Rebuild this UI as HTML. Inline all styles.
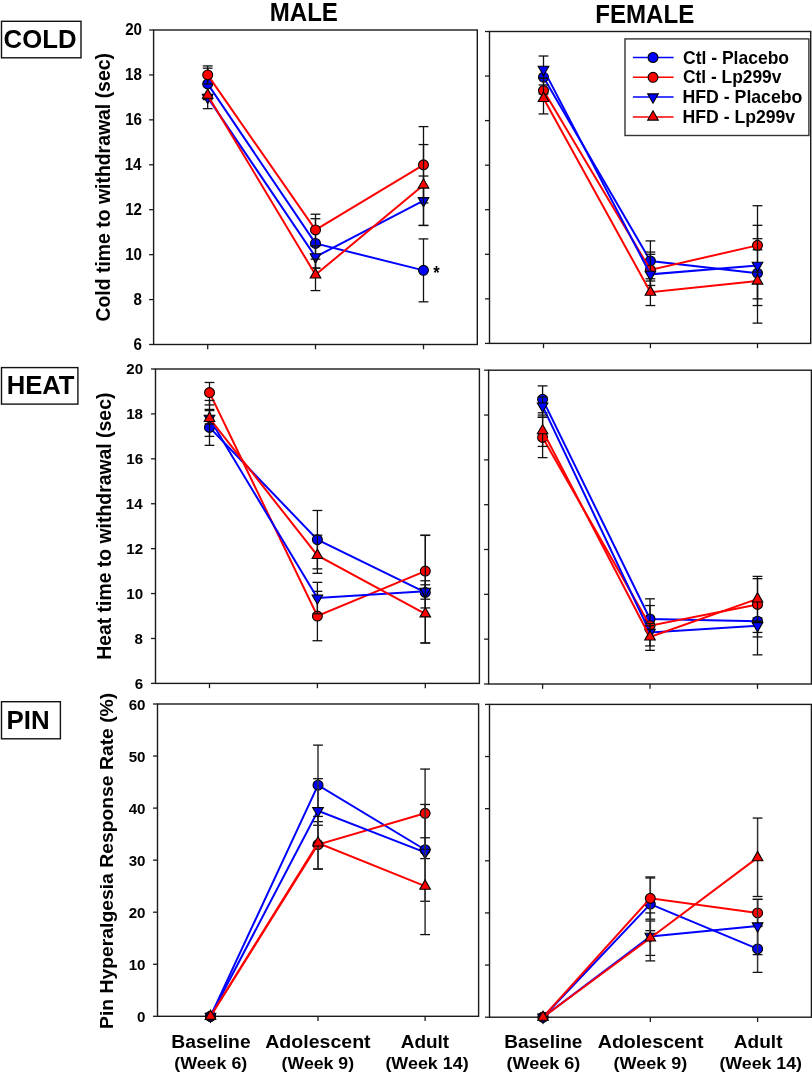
<!DOCTYPE html>
<html><head><meta charset="utf-8"><style>
html,body{margin:0;padding:0;background:#fff;}
svg{display:block;will-change:transform;}
text{font-family:"Liberation Sans",sans-serif;font-weight:bold;}
</style></head><body>
<svg width="812" height="1077" viewBox="0 0 812 1077">
<rect width="812" height="1077" fill="#fff"/>
<rect x="153.60" y="30.00" width="323.70" height="314.50" fill="none" stroke="#1a1a1a" stroke-width="1.4"/>
<line x1="149.10" y1="344.50" x2="153.60" y2="344.50" stroke="#1a1a1a" stroke-width="1.3"/>
<line x1="149.10" y1="299.57" x2="153.60" y2="299.57" stroke="#1a1a1a" stroke-width="1.3"/>
<line x1="149.10" y1="254.64" x2="153.60" y2="254.64" stroke="#1a1a1a" stroke-width="1.3"/>
<line x1="149.10" y1="209.71" x2="153.60" y2="209.71" stroke="#1a1a1a" stroke-width="1.3"/>
<line x1="149.10" y1="164.79" x2="153.60" y2="164.79" stroke="#1a1a1a" stroke-width="1.3"/>
<line x1="149.10" y1="119.86" x2="153.60" y2="119.86" stroke="#1a1a1a" stroke-width="1.3"/>
<line x1="149.10" y1="74.93" x2="153.60" y2="74.93" stroke="#1a1a1a" stroke-width="1.3"/>
<line x1="149.10" y1="30.00" x2="153.60" y2="30.00" stroke="#1a1a1a" stroke-width="1.3"/>
<line x1="207.70" y1="344.50" x2="207.70" y2="349.30" stroke="#1a1a1a" stroke-width="1.3"/>
<line x1="315.50" y1="344.50" x2="315.50" y2="349.30" stroke="#1a1a1a" stroke-width="1.3"/>
<line x1="423.50" y1="344.50" x2="423.50" y2="349.30" stroke="#1a1a1a" stroke-width="1.3"/>
<polyline points="207.70,83.91 315.50,243.41 423.50,270.37" fill="none" stroke="#0000ff" stroke-width="2"/>
<line x1="207.70" y1="68.19" x2="207.70" y2="99.64" stroke="#111" stroke-width="1.3"/>
<line x1="202.80" y1="68.19" x2="212.60" y2="68.19" stroke="#111" stroke-width="1.3"/>
<line x1="202.80" y1="99.64" x2="212.60" y2="99.64" stroke="#111" stroke-width="1.3"/>
<line x1="315.50" y1="218.70" x2="315.50" y2="268.12" stroke="#111" stroke-width="1.3"/>
<line x1="310.60" y1="218.70" x2="320.40" y2="218.70" stroke="#111" stroke-width="1.3"/>
<line x1="310.60" y1="268.12" x2="320.40" y2="268.12" stroke="#111" stroke-width="1.3"/>
<line x1="423.50" y1="238.92" x2="423.50" y2="301.82" stroke="#111" stroke-width="1.3"/>
<line x1="418.60" y1="238.92" x2="428.40" y2="238.92" stroke="#111" stroke-width="1.3"/>
<line x1="418.60" y1="301.82" x2="428.40" y2="301.82" stroke="#111" stroke-width="1.3"/>
<circle cx="207.70" cy="83.91" r="4.95" fill="#0000ff" stroke="#000" stroke-width="1.1"/>
<circle cx="315.50" cy="243.41" r="4.95" fill="#0000ff" stroke="#000" stroke-width="1.1"/>
<circle cx="423.50" cy="270.37" r="4.95" fill="#0000ff" stroke="#000" stroke-width="1.1"/>
<polyline points="207.70,74.93 315.50,229.93 423.50,164.79" fill="none" stroke="#ff0000" stroke-width="2"/>
<line x1="207.70" y1="65.94" x2="207.70" y2="83.91" stroke="#111" stroke-width="1.3"/>
<line x1="202.80" y1="65.94" x2="212.60" y2="65.94" stroke="#111" stroke-width="1.3"/>
<line x1="202.80" y1="83.91" x2="212.60" y2="83.91" stroke="#111" stroke-width="1.3"/>
<line x1="315.50" y1="214.21" x2="315.50" y2="245.66" stroke="#111" stroke-width="1.3"/>
<line x1="310.60" y1="214.21" x2="320.40" y2="214.21" stroke="#111" stroke-width="1.3"/>
<line x1="310.60" y1="245.66" x2="320.40" y2="245.66" stroke="#111" stroke-width="1.3"/>
<line x1="423.50" y1="126.60" x2="423.50" y2="202.97" stroke="#111" stroke-width="1.3"/>
<line x1="418.60" y1="126.60" x2="428.40" y2="126.60" stroke="#111" stroke-width="1.3"/>
<line x1="418.60" y1="202.97" x2="428.40" y2="202.97" stroke="#111" stroke-width="1.3"/>
<circle cx="207.70" cy="74.93" r="4.95" fill="#ff0000" stroke="#000" stroke-width="1.1"/>
<circle cx="315.50" cy="229.93" r="4.95" fill="#ff0000" stroke="#000" stroke-width="1.1"/>
<circle cx="423.50" cy="164.79" r="4.95" fill="#ff0000" stroke="#000" stroke-width="1.1"/>
<polyline points="207.70,97.39 315.50,256.89 423.50,200.73" fill="none" stroke="#0000ff" stroke-width="2"/>
<line x1="207.70" y1="95.15" x2="207.70" y2="108.62" stroke="#111" stroke-width="1.3"/>
<line x1="202.80" y1="95.15" x2="212.60" y2="95.15" stroke="#111" stroke-width="1.3"/>
<line x1="202.80" y1="108.62" x2="212.60" y2="108.62" stroke="#111" stroke-width="1.3"/>
<line x1="315.50" y1="245.66" x2="315.50" y2="268.12" stroke="#111" stroke-width="1.3"/>
<line x1="310.60" y1="245.66" x2="320.40" y2="245.66" stroke="#111" stroke-width="1.3"/>
<line x1="310.60" y1="268.12" x2="320.40" y2="268.12" stroke="#111" stroke-width="1.3"/>
<line x1="423.50" y1="176.02" x2="423.50" y2="225.44" stroke="#111" stroke-width="1.3"/>
<line x1="418.60" y1="176.02" x2="428.40" y2="176.02" stroke="#111" stroke-width="1.3"/>
<line x1="418.60" y1="225.44" x2="428.40" y2="225.44" stroke="#111" stroke-width="1.3"/>
<polygon points="202.40,94.29 213.00,94.29 207.70,103.59" fill="#0000ff" stroke="#000" stroke-width="1.1"/>
<polygon points="310.20,253.79 320.80,253.79 315.50,263.09" fill="#0000ff" stroke="#000" stroke-width="1.1"/>
<polygon points="418.20,197.63 428.80,197.63 423.50,206.93" fill="#0000ff" stroke="#000" stroke-width="1.1"/>
<polyline points="207.70,95.15 315.50,274.86 423.50,185.00" fill="none" stroke="#ff0000" stroke-width="2"/>
<line x1="207.70" y1="97.39" x2="207.70" y2="98.52" stroke="#111" stroke-width="1.3"/>
<line x1="202.80" y1="97.39" x2="212.60" y2="97.39" stroke="#111" stroke-width="1.3"/>
<line x1="202.80" y1="98.52" x2="212.60" y2="98.52" stroke="#111" stroke-width="1.3"/>
<line x1="315.50" y1="259.14" x2="315.50" y2="290.59" stroke="#111" stroke-width="1.3"/>
<line x1="310.60" y1="259.14" x2="320.40" y2="259.14" stroke="#111" stroke-width="1.3"/>
<line x1="310.60" y1="290.59" x2="320.40" y2="290.59" stroke="#111" stroke-width="1.3"/>
<line x1="423.50" y1="144.57" x2="423.50" y2="225.44" stroke="#111" stroke-width="1.3"/>
<line x1="418.60" y1="144.57" x2="428.40" y2="144.57" stroke="#111" stroke-width="1.3"/>
<line x1="418.60" y1="225.44" x2="428.40" y2="225.44" stroke="#111" stroke-width="1.3"/>
<polygon points="202.40,98.25 213.00,98.25 207.70,88.95" fill="#ff0000" stroke="#000" stroke-width="1.1"/>
<polygon points="310.20,277.96 320.80,277.96 315.50,268.66" fill="#ff0000" stroke="#000" stroke-width="1.1"/>
<polygon points="418.20,188.10 428.80,188.10 423.50,178.80" fill="#ff0000" stroke="#000" stroke-width="1.1"/>
<rect x="489.50" y="31.50" width="321.20" height="311.90" fill="none" stroke="#1a1a1a" stroke-width="1.4"/>
<line x1="485.00" y1="343.40" x2="489.50" y2="343.40" stroke="#1a1a1a" stroke-width="1.3"/>
<line x1="485.00" y1="298.84" x2="489.50" y2="298.84" stroke="#1a1a1a" stroke-width="1.3"/>
<line x1="485.00" y1="254.29" x2="489.50" y2="254.29" stroke="#1a1a1a" stroke-width="1.3"/>
<line x1="485.00" y1="209.73" x2="489.50" y2="209.73" stroke="#1a1a1a" stroke-width="1.3"/>
<line x1="485.00" y1="165.17" x2="489.50" y2="165.17" stroke="#1a1a1a" stroke-width="1.3"/>
<line x1="485.00" y1="120.61" x2="489.50" y2="120.61" stroke="#1a1a1a" stroke-width="1.3"/>
<line x1="485.00" y1="76.06" x2="489.50" y2="76.06" stroke="#1a1a1a" stroke-width="1.3"/>
<line x1="485.00" y1="31.50" x2="489.50" y2="31.50" stroke="#1a1a1a" stroke-width="1.3"/>
<line x1="543.50" y1="343.40" x2="543.50" y2="348.20" stroke="#1a1a1a" stroke-width="1.3"/>
<line x1="650.40" y1="343.40" x2="650.40" y2="348.20" stroke="#1a1a1a" stroke-width="1.3"/>
<line x1="757.50" y1="343.40" x2="757.50" y2="348.20" stroke="#1a1a1a" stroke-width="1.3"/>
<polyline points="543.50,77.17 650.40,260.97 757.50,273.22" fill="none" stroke="#0000ff" stroke-width="2"/>
<line x1="543.50" y1="67.15" x2="543.50" y2="89.42" stroke="#111" stroke-width="1.3"/>
<line x1="538.60" y1="67.15" x2="548.40" y2="67.15" stroke="#111" stroke-width="1.3"/>
<line x1="538.60" y1="89.42" x2="548.40" y2="89.42" stroke="#111" stroke-width="1.3"/>
<line x1="650.40" y1="240.92" x2="650.40" y2="281.02" stroke="#111" stroke-width="1.3"/>
<line x1="645.50" y1="240.92" x2="655.30" y2="240.92" stroke="#111" stroke-width="1.3"/>
<line x1="645.50" y1="281.02" x2="655.30" y2="281.02" stroke="#111" stroke-width="1.3"/>
<line x1="757.50" y1="225.32" x2="757.50" y2="305.53" stroke="#111" stroke-width="1.3"/>
<line x1="752.60" y1="225.32" x2="762.40" y2="225.32" stroke="#111" stroke-width="1.3"/>
<line x1="752.60" y1="305.53" x2="762.40" y2="305.53" stroke="#111" stroke-width="1.3"/>
<circle cx="543.50" cy="77.17" r="4.95" fill="#0000ff" stroke="#000" stroke-width="1.1"/>
<circle cx="650.40" cy="260.97" r="4.95" fill="#0000ff" stroke="#000" stroke-width="1.1"/>
<circle cx="757.50" cy="273.22" r="4.95" fill="#0000ff" stroke="#000" stroke-width="1.1"/>
<polyline points="543.50,90.54 650.40,269.88 757.50,245.37" fill="none" stroke="#ff0000" stroke-width="2"/>
<line x1="543.50" y1="84.97" x2="543.50" y2="93.88" stroke="#111" stroke-width="1.3"/>
<line x1="538.60" y1="84.97" x2="548.40" y2="84.97" stroke="#111" stroke-width="1.3"/>
<line x1="538.60" y1="93.88" x2="548.40" y2="93.88" stroke="#111" stroke-width="1.3"/>
<line x1="650.40" y1="252.06" x2="650.40" y2="285.48" stroke="#111" stroke-width="1.3"/>
<line x1="645.50" y1="252.06" x2="655.30" y2="252.06" stroke="#111" stroke-width="1.3"/>
<line x1="645.50" y1="285.48" x2="655.30" y2="285.48" stroke="#111" stroke-width="1.3"/>
<line x1="757.50" y1="238.69" x2="757.50" y2="249.83" stroke="#111" stroke-width="1.3"/>
<line x1="752.60" y1="238.69" x2="762.40" y2="238.69" stroke="#111" stroke-width="1.3"/>
<line x1="752.60" y1="249.83" x2="762.40" y2="249.83" stroke="#111" stroke-width="1.3"/>
<circle cx="543.50" cy="90.54" r="4.95" fill="#ff0000" stroke="#000" stroke-width="1.1"/>
<circle cx="650.40" cy="269.88" r="4.95" fill="#ff0000" stroke="#000" stroke-width="1.1"/>
<circle cx="757.50" cy="245.37" r="4.95" fill="#ff0000" stroke="#000" stroke-width="1.1"/>
<polyline points="543.50,69.37 650.40,274.34 757.50,265.42" fill="none" stroke="#0000ff" stroke-width="2"/>
<line x1="543.50" y1="56.01" x2="543.50" y2="78.29" stroke="#111" stroke-width="1.3"/>
<line x1="538.60" y1="56.01" x2="548.40" y2="56.01" stroke="#111" stroke-width="1.3"/>
<line x1="538.60" y1="78.29" x2="548.40" y2="78.29" stroke="#111" stroke-width="1.3"/>
<line x1="650.40" y1="254.29" x2="650.40" y2="294.39" stroke="#111" stroke-width="1.3"/>
<line x1="645.50" y1="254.29" x2="655.30" y2="254.29" stroke="#111" stroke-width="1.3"/>
<line x1="645.50" y1="294.39" x2="655.30" y2="294.39" stroke="#111" stroke-width="1.3"/>
<line x1="757.50" y1="205.72" x2="757.50" y2="323.13" stroke="#111" stroke-width="1.3"/>
<line x1="752.60" y1="205.72" x2="762.40" y2="205.72" stroke="#111" stroke-width="1.3"/>
<line x1="752.60" y1="323.13" x2="762.40" y2="323.13" stroke="#111" stroke-width="1.3"/>
<polygon points="538.20,66.27 548.80,66.27 543.50,75.57" fill="#0000ff" stroke="#000" stroke-width="1.1"/>
<polygon points="645.10,271.24 655.70,271.24 650.40,280.54" fill="#0000ff" stroke="#000" stroke-width="1.1"/>
<polygon points="752.20,262.32 762.80,262.32 757.50,271.62" fill="#0000ff" stroke="#000" stroke-width="1.1"/>
<polyline points="543.50,98.34 650.40,292.16 757.50,281.02" fill="none" stroke="#ff0000" stroke-width="2"/>
<line x1="543.50" y1="78.29" x2="543.50" y2="113.93" stroke="#111" stroke-width="1.3"/>
<line x1="538.60" y1="78.29" x2="548.40" y2="78.29" stroke="#111" stroke-width="1.3"/>
<line x1="538.60" y1="113.93" x2="548.40" y2="113.93" stroke="#111" stroke-width="1.3"/>
<line x1="650.40" y1="278.79" x2="650.40" y2="305.53" stroke="#111" stroke-width="1.3"/>
<line x1="645.50" y1="278.79" x2="655.30" y2="278.79" stroke="#111" stroke-width="1.3"/>
<line x1="645.50" y1="305.53" x2="655.30" y2="305.53" stroke="#111" stroke-width="1.3"/>
<line x1="757.50" y1="272.11" x2="757.50" y2="298.84" stroke="#111" stroke-width="1.3"/>
<line x1="752.60" y1="272.11" x2="762.40" y2="272.11" stroke="#111" stroke-width="1.3"/>
<line x1="752.60" y1="298.84" x2="762.40" y2="298.84" stroke="#111" stroke-width="1.3"/>
<polygon points="538.20,101.44 548.80,101.44 543.50,92.14" fill="#ff0000" stroke="#000" stroke-width="1.1"/>
<polygon points="645.10,295.26 655.70,295.26 650.40,285.96" fill="#ff0000" stroke="#000" stroke-width="1.1"/>
<polygon points="752.20,284.12 762.80,284.12 757.50,274.82" fill="#ff0000" stroke="#000" stroke-width="1.1"/>
<rect x="155.50" y="369.00" width="323.90" height="314.40" fill="none" stroke="#1a1a1a" stroke-width="1.4"/>
<line x1="151.00" y1="683.40" x2="155.50" y2="683.40" stroke="#1a1a1a" stroke-width="1.3"/>
<line x1="151.00" y1="638.49" x2="155.50" y2="638.49" stroke="#1a1a1a" stroke-width="1.3"/>
<line x1="151.00" y1="593.57" x2="155.50" y2="593.57" stroke="#1a1a1a" stroke-width="1.3"/>
<line x1="151.00" y1="548.66" x2="155.50" y2="548.66" stroke="#1a1a1a" stroke-width="1.3"/>
<line x1="151.00" y1="503.74" x2="155.50" y2="503.74" stroke="#1a1a1a" stroke-width="1.3"/>
<line x1="151.00" y1="458.83" x2="155.50" y2="458.83" stroke="#1a1a1a" stroke-width="1.3"/>
<line x1="151.00" y1="413.91" x2="155.50" y2="413.91" stroke="#1a1a1a" stroke-width="1.3"/>
<line x1="151.00" y1="369.00" x2="155.50" y2="369.00" stroke="#1a1a1a" stroke-width="1.3"/>
<line x1="209.50" y1="683.40" x2="209.50" y2="688.20" stroke="#1a1a1a" stroke-width="1.3"/>
<line x1="317.40" y1="683.40" x2="317.40" y2="688.20" stroke="#1a1a1a" stroke-width="1.3"/>
<line x1="425.30" y1="683.40" x2="425.30" y2="688.20" stroke="#1a1a1a" stroke-width="1.3"/>
<polyline points="209.50,427.39 317.40,539.67 425.30,592.45" fill="none" stroke="#0000ff" stroke-width="2"/>
<line x1="209.50" y1="409.42" x2="209.50" y2="445.35" stroke="#111" stroke-width="1.3"/>
<line x1="204.60" y1="409.42" x2="214.40" y2="409.42" stroke="#111" stroke-width="1.3"/>
<line x1="204.60" y1="445.35" x2="214.40" y2="445.35" stroke="#111" stroke-width="1.3"/>
<line x1="317.40" y1="510.48" x2="317.40" y2="568.87" stroke="#111" stroke-width="1.3"/>
<line x1="312.50" y1="510.48" x2="322.30" y2="510.48" stroke="#111" stroke-width="1.3"/>
<line x1="312.50" y1="568.87" x2="322.30" y2="568.87" stroke="#111" stroke-width="1.3"/>
<line x1="425.30" y1="580.77" x2="425.30" y2="599.19" stroke="#111" stroke-width="1.3"/>
<line x1="420.40" y1="580.77" x2="430.20" y2="580.77" stroke="#111" stroke-width="1.3"/>
<line x1="420.40" y1="599.19" x2="430.20" y2="599.19" stroke="#111" stroke-width="1.3"/>
<circle cx="209.50" cy="427.39" r="4.95" fill="#0000ff" stroke="#000" stroke-width="1.1"/>
<circle cx="317.40" cy="539.67" r="4.95" fill="#0000ff" stroke="#000" stroke-width="1.1"/>
<circle cx="425.30" cy="592.45" r="4.95" fill="#0000ff" stroke="#000" stroke-width="1.1"/>
<polyline points="209.50,392.58 317.40,616.03 425.30,571.11" fill="none" stroke="#ff0000" stroke-width="2"/>
<line x1="209.50" y1="382.47" x2="209.50" y2="404.93" stroke="#111" stroke-width="1.3"/>
<line x1="204.60" y1="382.47" x2="214.40" y2="382.47" stroke="#111" stroke-width="1.3"/>
<line x1="204.60" y1="404.93" x2="214.40" y2="404.93" stroke="#111" stroke-width="1.3"/>
<line x1="317.40" y1="591.33" x2="317.40" y2="640.73" stroke="#111" stroke-width="1.3"/>
<line x1="312.50" y1="591.33" x2="322.30" y2="591.33" stroke="#111" stroke-width="1.3"/>
<line x1="312.50" y1="640.73" x2="322.30" y2="640.73" stroke="#111" stroke-width="1.3"/>
<line x1="425.30" y1="535.18" x2="425.30" y2="607.94" stroke="#111" stroke-width="1.3"/>
<line x1="420.40" y1="535.18" x2="430.20" y2="535.18" stroke="#111" stroke-width="1.3"/>
<line x1="420.40" y1="607.94" x2="430.20" y2="607.94" stroke="#111" stroke-width="1.3"/>
<circle cx="209.50" cy="392.58" r="4.95" fill="#ff0000" stroke="#000" stroke-width="1.1"/>
<circle cx="317.40" cy="616.03" r="4.95" fill="#ff0000" stroke="#000" stroke-width="1.1"/>
<circle cx="425.30" cy="571.11" r="4.95" fill="#ff0000" stroke="#000" stroke-width="1.1"/>
<polyline points="209.50,418.41 317.40,598.06 425.30,591.33" fill="none" stroke="#0000ff" stroke-width="2"/>
<line x1="209.50" y1="400.44" x2="209.50" y2="436.37" stroke="#111" stroke-width="1.3"/>
<line x1="204.60" y1="400.44" x2="214.40" y2="400.44" stroke="#111" stroke-width="1.3"/>
<line x1="204.60" y1="436.37" x2="214.40" y2="436.37" stroke="#111" stroke-width="1.3"/>
<line x1="317.40" y1="582.34" x2="317.40" y2="613.78" stroke="#111" stroke-width="1.3"/>
<line x1="312.50" y1="582.34" x2="322.30" y2="582.34" stroke="#111" stroke-width="1.3"/>
<line x1="312.50" y1="613.78" x2="322.30" y2="613.78" stroke="#111" stroke-width="1.3"/>
<line x1="425.30" y1="535.41" x2="425.30" y2="642.98" stroke="#111" stroke-width="1.3"/>
<line x1="420.40" y1="535.41" x2="430.20" y2="535.41" stroke="#111" stroke-width="1.3"/>
<line x1="420.40" y1="642.98" x2="430.20" y2="642.98" stroke="#111" stroke-width="1.3"/>
<polygon points="204.20,415.31 214.80,415.31 209.50,424.61" fill="#0000ff" stroke="#000" stroke-width="1.1"/>
<polygon points="312.10,594.96 322.70,594.96 317.40,604.26" fill="#0000ff" stroke="#000" stroke-width="1.1"/>
<polygon points="420.00,588.23 430.60,588.23 425.30,597.53" fill="#0000ff" stroke="#000" stroke-width="1.1"/>
<polyline points="209.50,418.41 317.40,555.39 425.30,613.78" fill="none" stroke="#ff0000" stroke-width="2"/>
<line x1="209.50" y1="410.55" x2="209.50" y2="424.02" stroke="#111" stroke-width="1.3"/>
<line x1="204.60" y1="410.55" x2="214.40" y2="410.55" stroke="#111" stroke-width="1.3"/>
<line x1="204.60" y1="424.02" x2="214.40" y2="424.02" stroke="#111" stroke-width="1.3"/>
<line x1="317.40" y1="535.18" x2="317.40" y2="573.36" stroke="#111" stroke-width="1.3"/>
<line x1="312.50" y1="535.18" x2="322.30" y2="535.18" stroke="#111" stroke-width="1.3"/>
<line x1="312.50" y1="573.36" x2="322.30" y2="573.36" stroke="#111" stroke-width="1.3"/>
<line x1="425.30" y1="584.81" x2="425.30" y2="642.98" stroke="#111" stroke-width="1.3"/>
<line x1="420.40" y1="584.81" x2="430.20" y2="584.81" stroke="#111" stroke-width="1.3"/>
<line x1="420.40" y1="642.98" x2="430.20" y2="642.98" stroke="#111" stroke-width="1.3"/>
<polygon points="204.20,421.51 214.80,421.51 209.50,412.21" fill="#ff0000" stroke="#000" stroke-width="1.1"/>
<polygon points="312.10,558.49 322.70,558.49 317.40,549.19" fill="#ff0000" stroke="#000" stroke-width="1.1"/>
<polygon points="420.00,616.88 430.60,616.88 425.30,607.58" fill="#ff0000" stroke="#000" stroke-width="1.1"/>
<rect x="488.60" y="370.20" width="322.80" height="313.80" fill="none" stroke="#1a1a1a" stroke-width="1.4"/>
<line x1="484.10" y1="684.00" x2="488.60" y2="684.00" stroke="#1a1a1a" stroke-width="1.3"/>
<line x1="484.10" y1="639.17" x2="488.60" y2="639.17" stroke="#1a1a1a" stroke-width="1.3"/>
<line x1="484.10" y1="594.34" x2="488.60" y2="594.34" stroke="#1a1a1a" stroke-width="1.3"/>
<line x1="484.10" y1="549.51" x2="488.60" y2="549.51" stroke="#1a1a1a" stroke-width="1.3"/>
<line x1="484.10" y1="504.69" x2="488.60" y2="504.69" stroke="#1a1a1a" stroke-width="1.3"/>
<line x1="484.10" y1="459.86" x2="488.60" y2="459.86" stroke="#1a1a1a" stroke-width="1.3"/>
<line x1="484.10" y1="415.03" x2="488.60" y2="415.03" stroke="#1a1a1a" stroke-width="1.3"/>
<line x1="484.10" y1="370.20" x2="488.60" y2="370.20" stroke="#1a1a1a" stroke-width="1.3"/>
<line x1="542.60" y1="684.00" x2="542.60" y2="688.80" stroke="#1a1a1a" stroke-width="1.3"/>
<line x1="650.00" y1="684.00" x2="650.00" y2="688.80" stroke="#1a1a1a" stroke-width="1.3"/>
<line x1="757.50" y1="684.00" x2="757.50" y2="688.80" stroke="#1a1a1a" stroke-width="1.3"/>
<polyline points="542.60,399.34 650.00,619.00 757.50,621.24" fill="none" stroke="#0000ff" stroke-width="2"/>
<line x1="542.60" y1="385.89" x2="542.60" y2="412.79" stroke="#111" stroke-width="1.3"/>
<line x1="537.70" y1="385.89" x2="547.50" y2="385.89" stroke="#111" stroke-width="1.3"/>
<line x1="537.70" y1="412.79" x2="547.50" y2="412.79" stroke="#111" stroke-width="1.3"/>
<line x1="650.00" y1="598.83" x2="650.00" y2="639.17" stroke="#111" stroke-width="1.3"/>
<line x1="645.10" y1="598.83" x2="654.90" y2="598.83" stroke="#111" stroke-width="1.3"/>
<line x1="645.10" y1="639.17" x2="654.90" y2="639.17" stroke="#111" stroke-width="1.3"/>
<line x1="757.50" y1="617.88" x2="757.50" y2="636.93" stroke="#111" stroke-width="1.3"/>
<line x1="752.60" y1="617.88" x2="762.40" y2="617.88" stroke="#111" stroke-width="1.3"/>
<line x1="752.60" y1="636.93" x2="762.40" y2="636.93" stroke="#111" stroke-width="1.3"/>
<circle cx="542.60" cy="399.34" r="4.95" fill="#0000ff" stroke="#000" stroke-width="1.1"/>
<circle cx="650.00" cy="619.00" r="4.95" fill="#0000ff" stroke="#000" stroke-width="1.1"/>
<circle cx="757.50" cy="621.24" r="4.95" fill="#0000ff" stroke="#000" stroke-width="1.1"/>
<polyline points="542.60,437.44 650.00,625.72 757.50,604.43" fill="none" stroke="#ff0000" stroke-width="2"/>
<line x1="542.60" y1="417.27" x2="542.60" y2="457.62" stroke="#111" stroke-width="1.3"/>
<line x1="537.70" y1="417.27" x2="547.50" y2="417.27" stroke="#111" stroke-width="1.3"/>
<line x1="537.70" y1="457.62" x2="547.50" y2="457.62" stroke="#111" stroke-width="1.3"/>
<line x1="650.00" y1="605.55" x2="650.00" y2="645.90" stroke="#111" stroke-width="1.3"/>
<line x1="645.10" y1="605.55" x2="654.90" y2="605.55" stroke="#111" stroke-width="1.3"/>
<line x1="645.10" y1="645.90" x2="654.90" y2="645.90" stroke="#111" stroke-width="1.3"/>
<line x1="757.50" y1="578.65" x2="757.50" y2="632.45" stroke="#111" stroke-width="1.3"/>
<line x1="752.60" y1="578.65" x2="762.40" y2="578.65" stroke="#111" stroke-width="1.3"/>
<line x1="752.60" y1="632.45" x2="762.40" y2="632.45" stroke="#111" stroke-width="1.3"/>
<circle cx="542.60" cy="437.44" r="4.95" fill="#ff0000" stroke="#000" stroke-width="1.1"/>
<circle cx="650.00" cy="625.72" r="4.95" fill="#ff0000" stroke="#000" stroke-width="1.1"/>
<circle cx="757.50" cy="604.43" r="4.95" fill="#ff0000" stroke="#000" stroke-width="1.1"/>
<polyline points="542.60,406.06 650.00,632.45 757.50,625.72" fill="none" stroke="#0000ff" stroke-width="2"/>
<line x1="542.60" y1="397.10" x2="542.60" y2="417.27" stroke="#111" stroke-width="1.3"/>
<line x1="537.70" y1="397.10" x2="547.50" y2="397.10" stroke="#111" stroke-width="1.3"/>
<line x1="537.70" y1="417.27" x2="547.50" y2="417.27" stroke="#111" stroke-width="1.3"/>
<line x1="650.00" y1="625.72" x2="650.00" y2="639.17" stroke="#111" stroke-width="1.3"/>
<line x1="645.10" y1="625.72" x2="654.90" y2="625.72" stroke="#111" stroke-width="1.3"/>
<line x1="645.10" y1="639.17" x2="654.90" y2="639.17" stroke="#111" stroke-width="1.3"/>
<line x1="757.50" y1="621.24" x2="757.50" y2="654.86" stroke="#111" stroke-width="1.3"/>
<line x1="752.60" y1="621.24" x2="762.40" y2="621.24" stroke="#111" stroke-width="1.3"/>
<line x1="752.60" y1="654.86" x2="762.40" y2="654.86" stroke="#111" stroke-width="1.3"/>
<polygon points="537.30,402.96 547.90,402.96 542.60,412.26" fill="#0000ff" stroke="#000" stroke-width="1.1"/>
<polygon points="644.70,629.35 655.30,629.35 650.00,638.65" fill="#0000ff" stroke="#000" stroke-width="1.1"/>
<polygon points="752.20,622.62 762.80,622.62 757.50,631.92" fill="#0000ff" stroke="#000" stroke-width="1.1"/>
<polyline points="542.60,430.72 650.00,636.93 757.50,598.83" fill="none" stroke="#ff0000" stroke-width="2"/>
<line x1="542.60" y1="415.03" x2="542.60" y2="446.41" stroke="#111" stroke-width="1.3"/>
<line x1="537.70" y1="415.03" x2="547.50" y2="415.03" stroke="#111" stroke-width="1.3"/>
<line x1="537.70" y1="446.41" x2="547.50" y2="446.41" stroke="#111" stroke-width="1.3"/>
<line x1="650.00" y1="623.48" x2="650.00" y2="650.38" stroke="#111" stroke-width="1.3"/>
<line x1="645.10" y1="623.48" x2="654.90" y2="623.48" stroke="#111" stroke-width="1.3"/>
<line x1="645.10" y1="650.38" x2="654.90" y2="650.38" stroke="#111" stroke-width="1.3"/>
<line x1="757.50" y1="576.41" x2="757.50" y2="621.24" stroke="#111" stroke-width="1.3"/>
<line x1="752.60" y1="576.41" x2="762.40" y2="576.41" stroke="#111" stroke-width="1.3"/>
<line x1="752.60" y1="621.24" x2="762.40" y2="621.24" stroke="#111" stroke-width="1.3"/>
<polygon points="537.30,433.82 547.90,433.82 542.60,424.52" fill="#ff0000" stroke="#000" stroke-width="1.1"/>
<polygon points="644.70,640.03 655.30,640.03 650.00,630.73" fill="#ff0000" stroke="#000" stroke-width="1.1"/>
<polygon points="752.20,601.93 762.80,601.93 757.50,592.63" fill="#ff0000" stroke="#000" stroke-width="1.1"/>
<rect x="157.50" y="704.00" width="321.10" height="312.30" fill="none" stroke="#1a1a1a" stroke-width="1.4"/>
<line x1="153.00" y1="1016.30" x2="157.50" y2="1016.30" stroke="#1a1a1a" stroke-width="1.3"/>
<line x1="153.00" y1="964.25" x2="157.50" y2="964.25" stroke="#1a1a1a" stroke-width="1.3"/>
<line x1="153.00" y1="912.20" x2="157.50" y2="912.20" stroke="#1a1a1a" stroke-width="1.3"/>
<line x1="153.00" y1="860.15" x2="157.50" y2="860.15" stroke="#1a1a1a" stroke-width="1.3"/>
<line x1="153.00" y1="808.10" x2="157.50" y2="808.10" stroke="#1a1a1a" stroke-width="1.3"/>
<line x1="153.00" y1="756.05" x2="157.50" y2="756.05" stroke="#1a1a1a" stroke-width="1.3"/>
<line x1="153.00" y1="704.00" x2="157.50" y2="704.00" stroke="#1a1a1a" stroke-width="1.3"/>
<line x1="210.50" y1="1016.30" x2="210.50" y2="1021.10" stroke="#1a1a1a" stroke-width="1.3"/>
<line x1="318.00" y1="1016.30" x2="318.00" y2="1021.10" stroke="#1a1a1a" stroke-width="1.3"/>
<line x1="425.10" y1="1016.30" x2="425.10" y2="1021.10" stroke="#1a1a1a" stroke-width="1.3"/>
<polyline points="210.50,1016.30 318.00,785.20 425.10,849.74" fill="none" stroke="#0000ff" stroke-width="2"/>
<line x1="318.00" y1="745.12" x2="318.00" y2="825.28" stroke="#333" stroke-width="1.5"/>
<line x1="313.10" y1="745.12" x2="322.90" y2="745.12" stroke="#111" stroke-width="1.3"/>
<line x1="313.10" y1="825.28" x2="322.90" y2="825.28" stroke="#111" stroke-width="1.3"/>
<line x1="425.10" y1="848.18" x2="425.10" y2="851.30" stroke="#333" stroke-width="1.5"/>
<line x1="420.20" y1="848.18" x2="430.00" y2="848.18" stroke="#111" stroke-width="1.3"/>
<line x1="420.20" y1="851.30" x2="430.00" y2="851.30" stroke="#111" stroke-width="1.3"/>
<circle cx="210.50" cy="1016.30" r="4.95" fill="#0000ff" stroke="#000" stroke-width="1.1"/>
<circle cx="318.00" cy="785.20" r="4.95" fill="#0000ff" stroke="#000" stroke-width="1.1"/>
<circle cx="425.10" cy="849.74" r="4.95" fill="#0000ff" stroke="#000" stroke-width="1.1"/>
<polyline points="210.50,1016.30 318.00,844.53 425.10,813.30" fill="none" stroke="#ff0000" stroke-width="2"/>
<line x1="318.00" y1="821.63" x2="318.00" y2="869.00" stroke="#333" stroke-width="1.5"/>
<line x1="313.10" y1="821.63" x2="322.90" y2="821.63" stroke="#111" stroke-width="1.3"/>
<line x1="313.10" y1="869.00" x2="322.90" y2="869.00" stroke="#111" stroke-width="1.3"/>
<line x1="425.10" y1="769.06" x2="425.10" y2="858.59" stroke="#333" stroke-width="1.5"/>
<line x1="420.20" y1="769.06" x2="430.00" y2="769.06" stroke="#111" stroke-width="1.3"/>
<line x1="420.20" y1="858.59" x2="430.00" y2="858.59" stroke="#111" stroke-width="1.3"/>
<circle cx="210.50" cy="1016.30" r="4.95" fill="#ff0000" stroke="#000" stroke-width="1.1"/>
<circle cx="318.00" cy="844.53" r="4.95" fill="#ff0000" stroke="#000" stroke-width="1.1"/>
<circle cx="425.10" cy="813.30" r="4.95" fill="#ff0000" stroke="#000" stroke-width="1.1"/>
<polyline points="210.50,1016.30 318.00,810.70 425.10,852.34" fill="none" stroke="#0000ff" stroke-width="2"/>
<line x1="318.00" y1="778.69" x2="318.00" y2="844.53" stroke="#333" stroke-width="1.5"/>
<line x1="313.10" y1="778.69" x2="322.90" y2="778.69" stroke="#111" stroke-width="1.3"/>
<line x1="313.10" y1="844.53" x2="322.90" y2="844.53" stroke="#111" stroke-width="1.3"/>
<line x1="425.10" y1="804.46" x2="425.10" y2="901.27" stroke="#333" stroke-width="1.5"/>
<line x1="420.20" y1="804.46" x2="430.00" y2="804.46" stroke="#111" stroke-width="1.3"/>
<line x1="420.20" y1="901.27" x2="430.00" y2="901.27" stroke="#111" stroke-width="1.3"/>
<polygon points="205.20,1013.20 215.80,1013.20 210.50,1022.50" fill="#0000ff" stroke="#000" stroke-width="1.1"/>
<polygon points="312.70,807.60 323.30,807.60 318.00,816.90" fill="#0000ff" stroke="#000" stroke-width="1.1"/>
<polygon points="419.80,849.24 430.40,849.24 425.10,858.54" fill="#0000ff" stroke="#000" stroke-width="1.1"/>
<polyline points="210.50,1016.30 318.00,842.97 425.10,886.17" fill="none" stroke="#ff0000" stroke-width="2"/>
<line x1="318.00" y1="816.43" x2="318.00" y2="869.00" stroke="#333" stroke-width="1.5"/>
<line x1="313.10" y1="816.43" x2="322.90" y2="816.43" stroke="#111" stroke-width="1.3"/>
<line x1="313.10" y1="869.00" x2="322.90" y2="869.00" stroke="#111" stroke-width="1.3"/>
<line x1="425.10" y1="837.77" x2="425.10" y2="934.58" stroke="#333" stroke-width="1.5"/>
<line x1="420.20" y1="837.77" x2="430.00" y2="837.77" stroke="#111" stroke-width="1.3"/>
<line x1="420.20" y1="934.58" x2="430.00" y2="934.58" stroke="#111" stroke-width="1.3"/>
<polygon points="205.20,1019.40 215.80,1019.40 210.50,1010.10" fill="#ff0000" stroke="#000" stroke-width="1.1"/>
<polygon points="312.70,846.07 323.30,846.07 318.00,836.77" fill="#ff0000" stroke="#000" stroke-width="1.1"/>
<polygon points="419.80,889.27 430.40,889.27 425.10,879.97" fill="#ff0000" stroke="#000" stroke-width="1.1"/>
<rect x="489.50" y="704.40" width="321.90" height="312.80" fill="none" stroke="#1a1a1a" stroke-width="1.4"/>
<line x1="485.00" y1="1017.20" x2="489.50" y2="1017.20" stroke="#1a1a1a" stroke-width="1.3"/>
<line x1="485.00" y1="965.07" x2="489.50" y2="965.07" stroke="#1a1a1a" stroke-width="1.3"/>
<line x1="485.00" y1="912.93" x2="489.50" y2="912.93" stroke="#1a1a1a" stroke-width="1.3"/>
<line x1="485.00" y1="860.80" x2="489.50" y2="860.80" stroke="#1a1a1a" stroke-width="1.3"/>
<line x1="485.00" y1="808.67" x2="489.50" y2="808.67" stroke="#1a1a1a" stroke-width="1.3"/>
<line x1="485.00" y1="756.53" x2="489.50" y2="756.53" stroke="#1a1a1a" stroke-width="1.3"/>
<line x1="485.00" y1="704.40" x2="489.50" y2="704.40" stroke="#1a1a1a" stroke-width="1.3"/>
<line x1="543.00" y1="1017.20" x2="543.00" y2="1022.00" stroke="#1a1a1a" stroke-width="1.3"/>
<line x1="650.30" y1="1017.20" x2="650.30" y2="1022.00" stroke="#1a1a1a" stroke-width="1.3"/>
<line x1="757.60" y1="1017.20" x2="757.60" y2="1022.00" stroke="#1a1a1a" stroke-width="1.3"/>
<polyline points="543.00,1017.20 650.30,904.07 757.60,948.91" fill="none" stroke="#0000ff" stroke-width="2"/>
<line x1="650.30" y1="878.00" x2="650.30" y2="930.66" stroke="#333" stroke-width="1.5"/>
<line x1="645.40" y1="878.00" x2="655.20" y2="878.00" stroke="#111" stroke-width="1.3"/>
<line x1="645.40" y1="930.66" x2="655.20" y2="930.66" stroke="#111" stroke-width="1.3"/>
<line x1="757.60" y1="925.45" x2="757.60" y2="972.37" stroke="#333" stroke-width="1.5"/>
<line x1="752.70" y1="925.45" x2="762.50" y2="925.45" stroke="#111" stroke-width="1.3"/>
<line x1="752.70" y1="972.37" x2="762.50" y2="972.37" stroke="#111" stroke-width="1.3"/>
<circle cx="543.00" cy="1017.20" r="4.95" fill="#0000ff" stroke="#000" stroke-width="1.1"/>
<circle cx="650.30" cy="904.07" r="4.95" fill="#0000ff" stroke="#000" stroke-width="1.1"/>
<circle cx="757.60" cy="948.91" r="4.95" fill="#0000ff" stroke="#000" stroke-width="1.1"/>
<polyline points="543.00,1017.20 650.30,898.34 757.60,912.93" fill="none" stroke="#ff0000" stroke-width="2"/>
<line x1="650.30" y1="876.96" x2="650.30" y2="919.19" stroke="#333" stroke-width="1.5"/>
<line x1="645.40" y1="876.96" x2="655.20" y2="876.96" stroke="#111" stroke-width="1.3"/>
<line x1="645.40" y1="919.19" x2="655.20" y2="919.19" stroke="#111" stroke-width="1.3"/>
<line x1="757.60" y1="899.38" x2="757.60" y2="926.49" stroke="#333" stroke-width="1.5"/>
<line x1="752.70" y1="899.38" x2="762.50" y2="899.38" stroke="#111" stroke-width="1.3"/>
<line x1="752.70" y1="926.49" x2="762.50" y2="926.49" stroke="#111" stroke-width="1.3"/>
<circle cx="543.00" cy="1017.20" r="4.95" fill="#ff0000" stroke="#000" stroke-width="1.1"/>
<circle cx="650.30" cy="898.34" r="4.95" fill="#ff0000" stroke="#000" stroke-width="1.1"/>
<circle cx="757.60" cy="912.93" r="4.95" fill="#ff0000" stroke="#000" stroke-width="1.1"/>
<polyline points="543.00,1017.20 650.30,936.39 757.60,925.97" fill="none" stroke="#0000ff" stroke-width="2"/>
<line x1="650.30" y1="921.01" x2="650.30" y2="955.42" stroke="#333" stroke-width="1.5"/>
<line x1="645.40" y1="921.01" x2="655.20" y2="921.01" stroke="#111" stroke-width="1.3"/>
<line x1="645.40" y1="955.42" x2="655.20" y2="955.42" stroke="#111" stroke-width="1.3"/>
<line x1="757.60" y1="899.38" x2="757.60" y2="954.64" stroke="#333" stroke-width="1.5"/>
<line x1="752.70" y1="899.38" x2="762.50" y2="899.38" stroke="#111" stroke-width="1.3"/>
<line x1="752.70" y1="954.64" x2="762.50" y2="954.64" stroke="#111" stroke-width="1.3"/>
<polygon points="537.70,1014.10 548.30,1014.10 543.00,1023.40" fill="#0000ff" stroke="#000" stroke-width="1.1"/>
<polygon points="645.00,933.29 655.60,933.29 650.30,942.59" fill="#0000ff" stroke="#000" stroke-width="1.1"/>
<polygon points="752.30,922.87 762.90,922.87 757.60,932.17" fill="#0000ff" stroke="#000" stroke-width="1.1"/>
<polyline points="543.00,1017.20 650.30,937.96 757.60,857.67" fill="none" stroke="#ff0000" stroke-width="2"/>
<line x1="650.30" y1="912.93" x2="650.30" y2="960.90" stroke="#333" stroke-width="1.5"/>
<line x1="645.40" y1="912.93" x2="655.20" y2="912.93" stroke="#111" stroke-width="1.3"/>
<line x1="645.40" y1="960.90" x2="655.20" y2="960.90" stroke="#111" stroke-width="1.3"/>
<line x1="757.60" y1="818.05" x2="757.60" y2="896.51" stroke="#333" stroke-width="1.5"/>
<line x1="752.70" y1="818.05" x2="762.50" y2="818.05" stroke="#111" stroke-width="1.3"/>
<line x1="752.70" y1="896.51" x2="762.50" y2="896.51" stroke="#111" stroke-width="1.3"/>
<polygon points="537.70,1020.30 548.30,1020.30 543.00,1011.00" fill="#ff0000" stroke="#000" stroke-width="1.1"/>
<polygon points="645.00,941.06 655.60,941.06 650.30,931.76" fill="#ff0000" stroke="#000" stroke-width="1.1"/>
<polygon points="752.30,860.77 762.90,860.77 757.60,851.47" fill="#ff0000" stroke="#000" stroke-width="1.1"/>
<text x="133.53" y="349.83" font-size="16.0" textLength="8.41" lengthAdjust="spacingAndGlyphs" fill="#000" >6</text>
<text x="133.46" y="304.90" font-size="16.0" textLength="8.41" lengthAdjust="spacingAndGlyphs" fill="#000" >8</text>
<text x="125.21" y="259.97" font-size="16.0" textLength="16.83" lengthAdjust="spacingAndGlyphs" fill="#000" >10</text>
<text x="125.21" y="215.04" font-size="16.0" textLength="16.83" lengthAdjust="spacingAndGlyphs" fill="#000" >12</text>
<text x="124.69" y="170.12" font-size="16.0" textLength="16.83" lengthAdjust="spacingAndGlyphs" fill="#000" >14</text>
<text x="125.14" y="125.19" font-size="16.0" textLength="16.83" lengthAdjust="spacingAndGlyphs" fill="#000" >16</text>
<text x="125.06" y="80.26" font-size="16.0" textLength="16.83" lengthAdjust="spacingAndGlyphs" fill="#000" >18</text>
<text x="125.21" y="35.33" font-size="16.0" textLength="16.83" lengthAdjust="spacingAndGlyphs" fill="#000" >20</text>
<text x="134.63" y="688.73" font-size="15.5" textLength="8.41" lengthAdjust="spacingAndGlyphs" fill="#000" >6</text>
<text x="134.56" y="643.82" font-size="15.5" textLength="8.41" lengthAdjust="spacingAndGlyphs" fill="#000" >8</text>
<text x="126.31" y="598.90" font-size="15.5" textLength="16.83" lengthAdjust="spacingAndGlyphs" fill="#000" >10</text>
<text x="126.31" y="553.99" font-size="15.5" textLength="16.83" lengthAdjust="spacingAndGlyphs" fill="#000" >12</text>
<text x="125.79" y="509.07" font-size="15.5" textLength="16.83" lengthAdjust="spacingAndGlyphs" fill="#000" >14</text>
<text x="126.24" y="464.16" font-size="15.5" textLength="16.83" lengthAdjust="spacingAndGlyphs" fill="#000" >16</text>
<text x="126.16" y="419.24" font-size="15.5" textLength="16.83" lengthAdjust="spacingAndGlyphs" fill="#000" >18</text>
<text x="126.31" y="374.33" font-size="15.5" textLength="16.83" lengthAdjust="spacingAndGlyphs" fill="#000" >20</text>
<text x="137.11" y="1022.10" font-size="15.2" textLength="8.41" lengthAdjust="spacingAndGlyphs" fill="#000" >0</text>
<text x="128.71" y="970.05" font-size="15.2" textLength="16.83" lengthAdjust="spacingAndGlyphs" fill="#000" >10</text>
<text x="128.71" y="918.00" font-size="15.2" textLength="16.83" lengthAdjust="spacingAndGlyphs" fill="#000" >20</text>
<text x="128.71" y="865.95" font-size="15.2" textLength="16.83" lengthAdjust="spacingAndGlyphs" fill="#000" >30</text>
<text x="128.71" y="813.90" font-size="15.2" textLength="16.83" lengthAdjust="spacingAndGlyphs" fill="#000" >40</text>
<text x="128.71" y="761.85" font-size="15.2" textLength="16.83" lengthAdjust="spacingAndGlyphs" fill="#000" >50</text>
<text x="128.71" y="709.80" font-size="15.2" textLength="16.83" lengthAdjust="spacingAndGlyphs" fill="#000" >60</text>
<text x="269.74" y="21.00" font-size="25.3" textLength="68.18" lengthAdjust="spacingAndGlyphs" fill="#000" >MALE</text>
<text x="595.23" y="23.20" font-size="25.3" textLength="99.03" lengthAdjust="spacingAndGlyphs" fill="#000" >FEMALE</text>
<rect x="1.5" y="21.3" width="79.5" height="36.5" fill="none" stroke="#111" stroke-width="1.4"/>
<text x="3.57" y="47.90" font-size="26" textLength="72.94" lengthAdjust="spacingAndGlyphs" fill="#000" >COLD</text>
<rect x="1.5" y="367.6" width="76.4" height="36.5" fill="none" stroke="#111" stroke-width="1.4"/>
<text x="6.63" y="393.80" font-size="26" textLength="67.90" lengthAdjust="spacingAndGlyphs" fill="#000" >HEAT</text>
<rect x="1.5" y="701.7" width="58.9" height="37.1" fill="none" stroke="#111" stroke-width="1.4"/>
<text x="6.62" y="728.70" font-size="26" textLength="43.11" lengthAdjust="spacingAndGlyphs" fill="#000" >PIN</text>
<text transform="translate(109.70,321.58) rotate(-90)" x="0" y="0" font-size="20.0" textLength="268.55" lengthAdjust="spacingAndGlyphs" fill="#000" >Cold time to withdrawal (sec)</text>
<text transform="translate(110.90,659.86) rotate(-90)" x="0" y="0" font-size="20.0" textLength="267.25" lengthAdjust="spacingAndGlyphs" fill="#000" >Heat time to withdrawal (sec)</text>
<text transform="translate(113.30,1028.96) rotate(-90)" x="0" y="0" font-size="18.9" textLength="336.22" lengthAdjust="spacingAndGlyphs" fill="#000" >Pin Hyperalgesia Response Rate (%)</text>
<text x="171.25" y="1048.00" font-size="18.8" textLength="79.40" lengthAdjust="spacingAndGlyphs" fill="#000" >Baseline</text>
<text x="265.21" y="1048.00" font-size="18.8" textLength="105.39" lengthAdjust="spacingAndGlyphs" fill="#000" >Adolescent</text>
<text x="400.73" y="1048.00" font-size="18.8" textLength="48.45" lengthAdjust="spacingAndGlyphs" fill="#000" >Adult</text>
<text x="504.16" y="1048.00" font-size="18.8" textLength="78.27" lengthAdjust="spacingAndGlyphs" fill="#000" >Baseline</text>
<text x="597.71" y="1048.00" font-size="18.8" textLength="105.79" lengthAdjust="spacingAndGlyphs" fill="#000" >Adolescent</text>
<text x="733.82" y="1048.00" font-size="18.8" textLength="48.66" lengthAdjust="spacingAndGlyphs" fill="#000" >Adult</text>
<text x="174.21" y="1069.20" font-size="16.8" textLength="73.07" lengthAdjust="spacingAndGlyphs" fill="#000" >(Week 6)</text>
<text x="281.62" y="1069.20" font-size="16.8" textLength="72.46" lengthAdjust="spacingAndGlyphs" fill="#000" >(Week 9)</text>
<text x="385.41" y="1069.20" font-size="16.8" textLength="83.21" lengthAdjust="spacingAndGlyphs" fill="#000" >(Week 14)</text>
<text x="506.60" y="1069.20" font-size="16.8" textLength="73.79" lengthAdjust="spacingAndGlyphs" fill="#000" >(Week 6)</text>
<text x="613.60" y="1069.20" font-size="16.8" textLength="73.79" lengthAdjust="spacingAndGlyphs" fill="#000" >(Week 9)</text>
<text x="719.41" y="1069.20" font-size="16.8" textLength="82.60" lengthAdjust="spacingAndGlyphs" fill="#000" >(Week 14)</text>
<text x="433.32" y="278.60" font-size="17.5" textLength="6.45" lengthAdjust="spacingAndGlyphs" fill="#000" >*</text>
<rect x="625.0" y="38.9" width="183.9" height="96.6" fill="#fff" stroke="#333" stroke-width="1.4"/>
<line x1="632.9" y1="57.5" x2="673.6" y2="57.5" stroke="#0000ff" stroke-width="1.6"/>
<circle cx="653.00" cy="57.50" r="4.95" fill="#0000ff" stroke="#000" stroke-width="1.1"/>
<line x1="632.9" y1="77.3" x2="673.6" y2="77.3" stroke="#ff0000" stroke-width="1.6"/>
<circle cx="653.00" cy="77.30" r="4.95" fill="#ff0000" stroke="#000" stroke-width="1.1"/>
<line x1="632.9" y1="97.0" x2="673.6" y2="97.0" stroke="#0000ff" stroke-width="1.6"/>
<polygon points="647.70,93.90 658.30,93.90 653.00,103.20" fill="#0000ff" stroke="#000" stroke-width="1.1"/>
<line x1="632.9" y1="117.0" x2="673.6" y2="117.0" stroke="#ff0000" stroke-width="1.6"/>
<polygon points="647.70,120.10 658.30,120.10 653.00,110.80" fill="#ff0000" stroke="#000" stroke-width="1.1"/>
<text x="683.00" y="63.60" font-size="17.9" textLength="106.03" lengthAdjust="spacingAndGlyphs" fill="#000" >Ctl - Placebo</text>
<text x="683.01" y="83.40" font-size="17.9" textLength="98.44" lengthAdjust="spacingAndGlyphs" fill="#000" >Ctl - Lp299v</text>
<text x="682.55" y="103.10" font-size="17.9" textLength="119.84" lengthAdjust="spacingAndGlyphs" fill="#000" >HFD - Placebo</text>
<text x="682.56" y="123.10" font-size="17.9" textLength="112.54" lengthAdjust="spacingAndGlyphs" fill="#000" >HFD - Lp299v</text>
</svg></body></html>
